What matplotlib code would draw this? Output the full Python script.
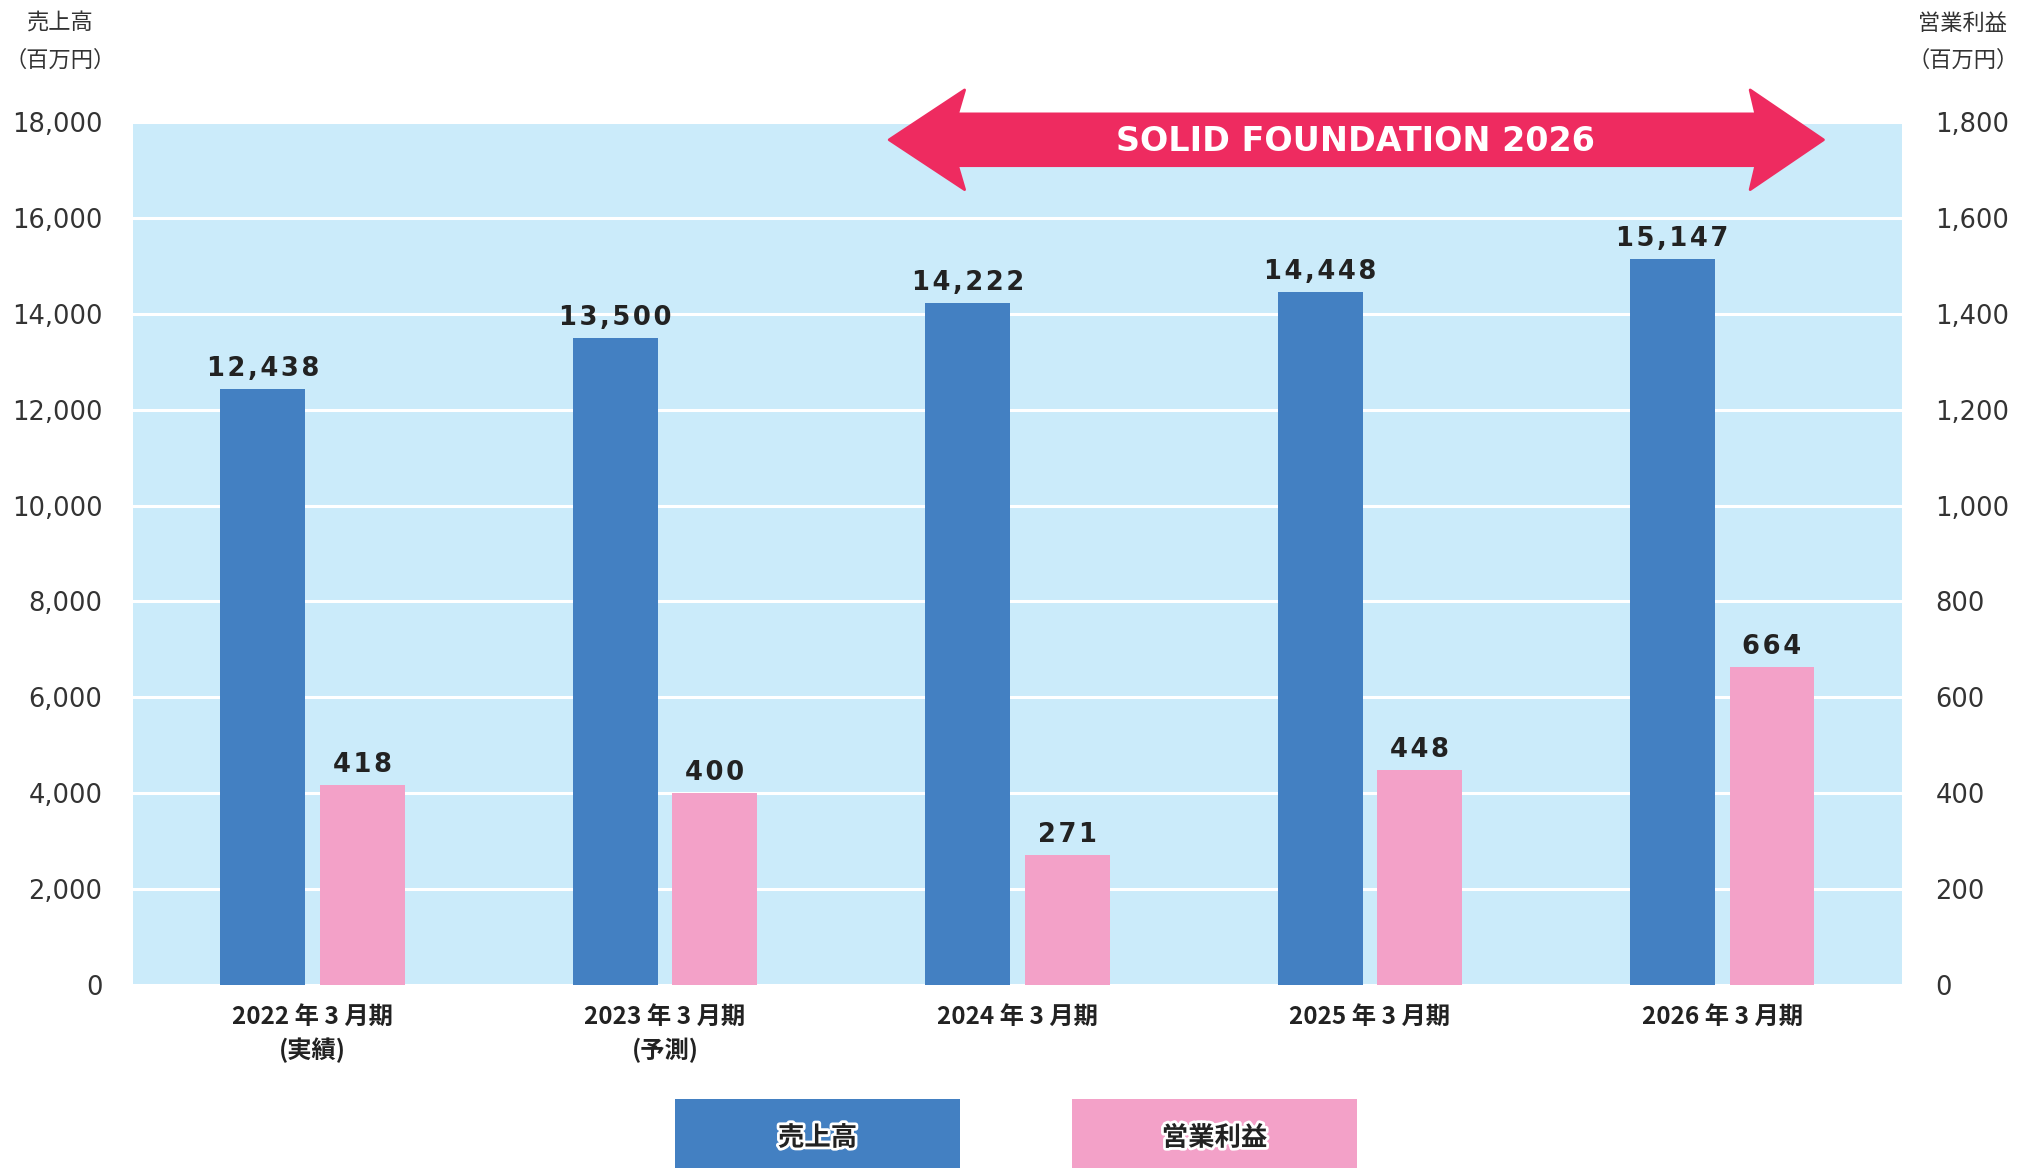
import matplotlib
matplotlib.use("Agg")
import matplotlib.pyplot as plt
import matplotlib.patheffects as pe
from matplotlib.patches import Polygon, Rectangle
import numpy as np

plt.rcParams['font.family'] = ['DejaVu Sans', 'Noto Sans CJK JP']

categories = ["2022 年 3 月期\n(実績)", "2023 年 3 月期\n(予測)", "2024 年 3 月期", "2025 年 3 月期", "2026 年 3 月期"]
sales = [12438, 13500, 14222, 14448, 15147]
profit = [418, 400, 271, 448, 664]
left_ticks = list(range(0, 18001, 2000))
right_ticks = list(range(0, 1801, 200))

BLUE = "#4380C2"
PINK = "#F3A1C8"
BG = "#CBEBFA"
ARROW = "#EE2B60"
TXT = "#222222"
CJK = ['Noto Sans CJK JP', 'DejaVu Sans']
HS = "\u200a"


def spaced(s):
    return HS.join(s)


fig = plt.figure(figsize=(20.2, 11.69), dpi=100)
ax = fig.add_axes([0.0658, 0.1574, 0.8758, 0.7382])
ax2 = ax.twinx()

x = np.arange(len(categories))
w = 0.241
off = 0.141

ax.set_facecolor(BG)
ax.set_xlim(-0.51, 4.51)
ax.set_ylim(0, 18000)
ax2.set_ylim(0, 1800)
ax.set_yticks(left_ticks)
ax.set_yticklabels([f"{v:,}" for v in left_ticks])
ax2.set_yticks(right_ticks)
ax2.set_yticklabels([f"{v:,}" for v in right_ticks])
ax.grid(axis='y', color='white', linewidth=2.2)
ax.set_axisbelow(True)
for a in (ax, ax2):
    for s in a.spines.values():
        s.set_visible(False)
ax.tick_params(axis='y', length=0, pad=22, labelsize=18.5, labelcolor="#333333")
ax2.tick_params(axis='y', length=0, pad=24, labelsize=18.5, labelcolor="#333333")
ax.tick_params(axis='x', length=0, pad=14)
ax.set_xticks(x)
ax.set_xticklabels(categories, fontsize=17.5, fontweight='bold', family=CJK,
                   color=TXT, linespacing=1.45, va='top')

b1 = ax.bar(x - off, sales, width=w, color=BLUE, zorder=3)
b2 = ax2.bar(x + off, profit, width=w, color=PINK, zorder=3)

for r, v in zip(b1, sales):
    ax.annotate(spaced(f"{v:,}"), (r.get_x() + r.get_width() / 2, r.get_height()),
                xytext=(0, 5), textcoords='offset points', ha='center', va='bottom',
                fontsize=18.5, fontweight='bold', color=TXT)
for r, v in zip(b2, profit):
    ax2.annotate(spaced(f"{v:,}"), (r.get_x() + r.get_width() / 2, r.get_height()),
                 xytext=(0, 5), textcoords='offset points', ha='center', va='bottom',
                 fontsize=18.5, fontweight='bold', color=TXT)

# Arrow "SOLID FOUNDATION 2026"
yc, sh, hh = 17630, 540, 1040
xl, xlh, xlj = 1.636, 1.85, 1.83
xr, xrh, xrj = 4.287, 4.079, 4.095
pts = [(xl, yc), (xlh, yc + hh), (xlj, yc + sh), (xrj, yc + sh), (xrh, yc + hh),
       (xr, yc), (xrh, yc - hh), (xrj, yc - sh), (xlj, yc - sh), (xlh, yc - hh)]
arrow = Polygon(pts, closed=True, facecolor=ARROW, edgecolor=ARROW, linewidth=2,
                joinstyle='round', clip_on=False, zorder=5)
ax.add_patch(arrow)
ax.text(2.96, yc - 40, "SOLID FOUNDATION 2026", ha='center', va='center', color='white',
        fontsize=24, fontweight='bold', zorder=6)

# Axis titles
for xpx, title in [(60, "売上高"), (1963, "営業利益")]:
    fig.text(xpx / 2020, 1 - 23 / 1169, title, ha='center', va='center', fontsize=16,
             family=CJK, color="#333333")
    fig.text(xpx / 2020, 1 - 60 / 1169, "（百万円）", ha='center', va='center', fontsize=16,
             family=CJK, color="#333333")

# Legend boxes
legend_items = [("売上高", BLUE, 675), ("営業利益", PINK, 1072)]
for label, col, x0 in legend_items:
    fig.add_artist(Rectangle((x0 / 2020, 1 / 1169), 285 / 2020, 69 / 1169,
                             transform=fig.transFigure, facecolor=col, edgecolor='none'))
    fig.text((x0 + 142.5) / 2020, 31 / 1169, label, ha='center', va='center',
             fontsize=19, fontweight='bold', family=CJK, color=TXT,
             path_effects=[pe.withStroke(linewidth=4, foreground='white')])

fig.savefig("out.png", dpi=100)
